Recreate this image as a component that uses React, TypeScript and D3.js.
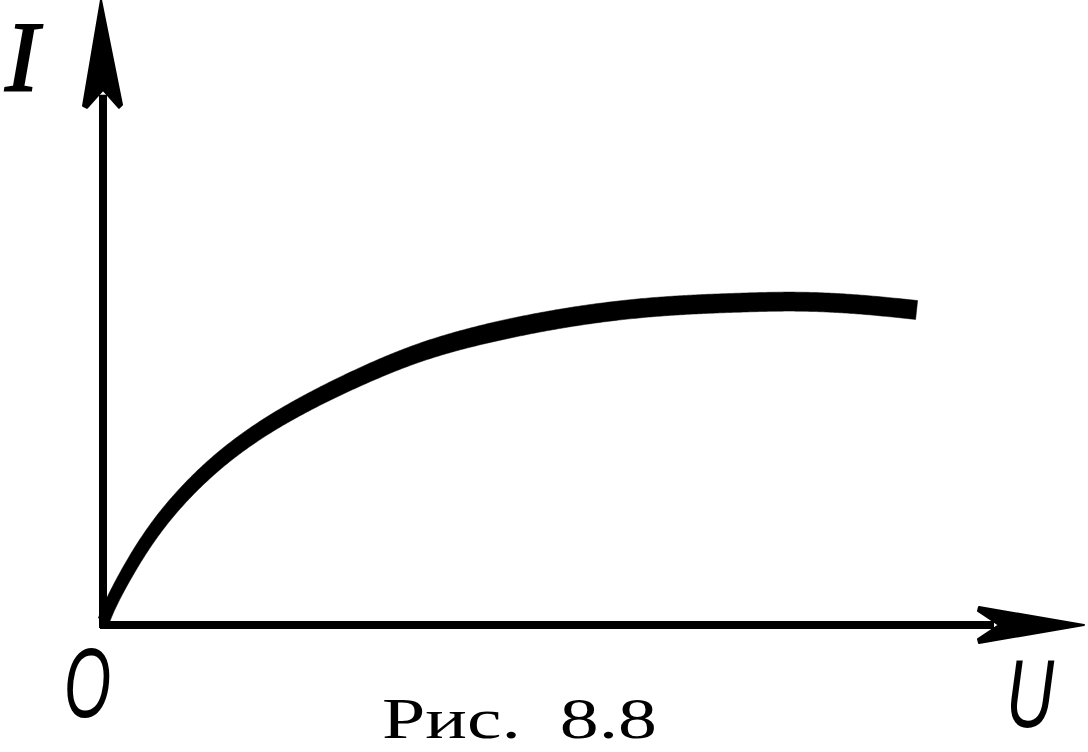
import React, { useLayoutEffect, useRef, useState } from "react";
import * as d3 from "d3";

const W = 1088;
const H = 752;

// Curve I(U) (arbitrary units)
const curveU = [0.01, 0.08, 0.29, 0.64, 1.23, 2.0, 3.11, 3.86, 4.97, 6.08, 7.19, 7.74, 8.41, 9.04];
const curveI = [0.08, 0.35, 0.95, 1.78, 2.72, 3.53, 4.33, 4.73, 5.1, 5.32, 5.38, 5.4, 5.35, 5.25];

const axisLabels = { y: "I", x: "U", origin: "O" };
const caption = "Рис.  8.8";

const xMaxAxis = 10.9;
const yMaxAxis = 10.42;

export default function App() {
  const x = d3.scaleLinear().domain([0, 10]).range([103, 1003]);
  const y = d3.scaleLinear().domain([0, 10]).range([625, 25]);

  const pts: [number, number][] = curveU.map((u, i) => [x(u), y(curveI[i])]);
  const line = d3
    .line<[number, number]>()
    .x((d) => d[0])
    .y((d) => d[1])
    .curve(d3.curveBasis);
  const path = line(pts) || "";

  const guideRef = useRef<SVGPathElement>(null);
  const [band, setBand] = useState<string>("");

  useLayoutEffect(() => {
    const el = guideRef.current;
    if (!el) return;
    const L = el.getTotalLength();
    const n = 400;
    const left: [number, number][] = [];
    const right: [number, number][] = [];
    for (let i = 0; i <= n; i++) {
      const s = (L * i) / n;
      const p = el.getPointAtLength(s);
      const a = el.getPointAtLength(Math.max(0, s - 2));
      const b = el.getPointAtLength(Math.min(L, s + 2));
      let dx = b.x - a.x;
      let dy = b.y - a.y;
      const len = Math.hypot(dx, dy) || 1;
      dx /= len;
      dy /= len;
      const t = i / n;
      const w = 12 + 7 * Math.min(1, t / 0.55);
      const nx = -dy * (w / 2);
      const ny = dx * (w / 2);
      left.push([p.x + nx, p.y + ny]);
      right.push([p.x - nx, p.y - ny]);
    }
    const poly = left.concat(right.reverse());
    setBand("M" + poly.map((q) => q[0].toFixed(2) + "," + q[1].toFixed(2)).join("L") + "Z");
  }, [path]);

  const ox = x(0);
  const oy = y(0);
  const xEnd = x(xMaxAxis);
  const yEnd = y(yMaxAxis);

  const yArrow = `M${ox - 2},${yEnd} L${ox - 20},${yEnd + 106} L${ox - 16},${yEnd + 108} L${ox},${yEnd + 90} L${ox + 16},${yEnd + 108} L${ox + 19},${yEnd + 105} Z`;
  const xArrow = `M${xEnd},${oy} L${xEnd - 105},${oy - 18} L${xEnd - 106},${oy - 14} L${xEnd - 85},${oy} L${xEnd - 106},${oy + 14} L${xEnd - 105},${oy + 18} Z`;

  return (
    <svg
      width={W}
      height={H}
      style={{ position: "absolute", left: 0, top: 0, background: "#fff" }}
    >
      <rect x={0} y={0} width={W} height={H} fill="#fff" />
      {/* axes */}
      <line x1={ox} y1={oy + 3} x2={ox} y2={yEnd + 95} stroke="#000" strokeWidth={8} />
      <path d={yArrow} fill="#000" stroke="#000" strokeWidth={2} strokeLinejoin="round" />
      <line x1={ox - 3} y1={oy} x2={xEnd - 90} y2={oy} stroke="#000" strokeWidth={8} />
      <path d={xArrow} fill="#000" stroke="#000" strokeWidth={2} strokeLinejoin="round" />
      {/* curve */}
      <path ref={guideRef} d={path} fill="none" stroke="none" />
      {band ? (
        <path d={band} fill="#000" stroke="#000" strokeWidth={0.5} />
      ) : (
        <path d={path} fill="none" stroke="#000" strokeWidth={16} />
      )}
      {/* labels */}
      <text
        x={22}
        y={90}
        textAnchor="middle"
        fontFamily="Liberation Serif"
        fontStyle="italic"
        fontSize={100}
        stroke="#000"
        strokeWidth={2}
        fill="#000"
      >
        {axisLabels.y}
      </text>
      <text
        x={64}
        y={717}
        textLength={47}
        lengthAdjust="spacingAndGlyphs"
        fontFamily="Liberation Sans"
        fontStyle="italic"
        fontSize={98}
        fill="#000"
      >
        {axisLabels.origin}
      </text>
      <text
        x={1006}
        y={727}
        textLength={48}
        lengthAdjust="spacingAndGlyphs"
        fontFamily="Liberation Sans"
        fontStyle="italic"
        fontSize={96}
        fill="#000"
      >
        {axisLabels.x}
      </text>
      <text
        x={382}
        y={738}
        textLength={275}
        lengthAdjust="spacingAndGlyphs"
        fontFamily="Liberation Serif"
        fontSize={57}
        fill="#000"
        style={{ whiteSpace: "pre" }}
      >
        {caption}
      </text>
    </svg>
  );
}
